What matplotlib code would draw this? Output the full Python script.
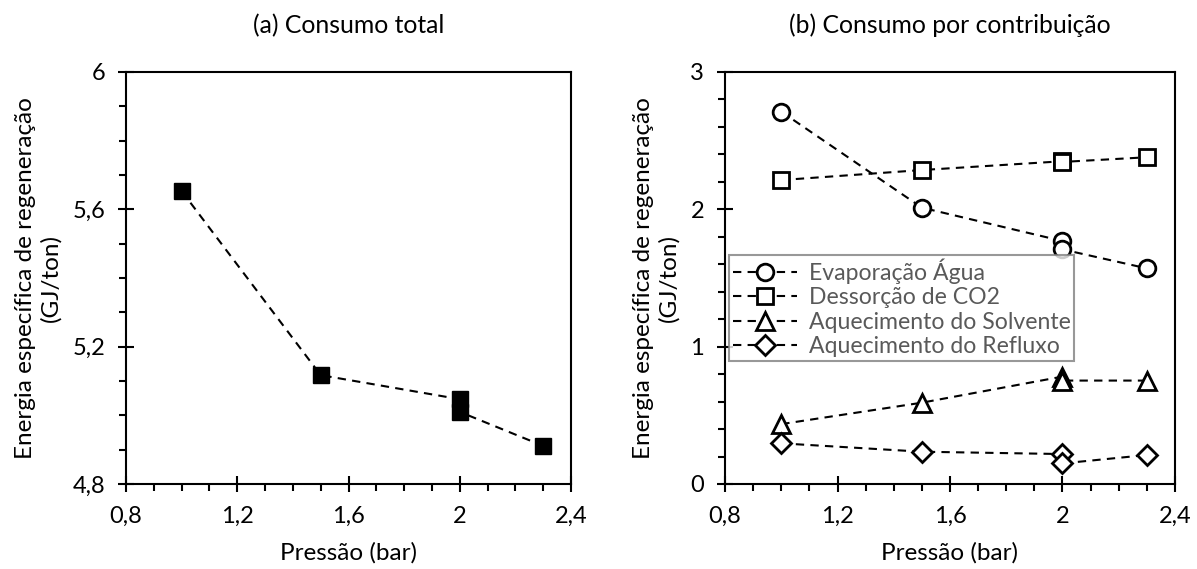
import matplotlib
matplotlib.use("Agg")
import matplotlib.pyplot as plt
from matplotlib.ticker import MultipleLocator, FuncFormatter

plt.rcParams['font.family'] = ['Lato', 'DejaVu Sans']

# (a) total consumption
pressao_total = [1.0, 1.5, 2.0, 2.0, 2.3]
consumo_total = [5.653, 5.117, 5.047, 5.010, 4.911]

# (b) consumption per contribution
pressao = [1.0, 1.5, 2.0, 2.0, 2.3]
evaporacao = [2.711, 2.012, 1.769, 1.708, 1.570]
dessorcao = [2.213, 2.286, 2.350, 2.345, 2.379]
aquec_solvente = [0.436, 0.592, 0.782, 0.753, 0.753]
aquec_refluxo = [0.296, 0.235, 0.218, 0.150, 0.211]

series = [
    ("Evaporação Água", evaporacao, "o", 12),
    ("Dessorção de CO2", dessorcao, "s", 12),
    ("Aquecimento do Solvente", aquec_solvente, "^", 13.5),
    ("Aquecimento do Refluxo", aquec_refluxo, "D", 10.5),
]

fs_tick = 17
fs_label = 17.5
fs_title = 17.8
fs_leg = 16.6
ylabel = "Energia específica de regeneração\n(GJ/ton)"
comma = FuncFormatter(lambda v, pos: f"{v:g}".replace(".", ","))

fig = plt.figure(figsize=(11.97, 5.69), dpi=100)
ax1 = fig.add_axes([0.1053, 0.1494, 0.3717, 0.7241])
ax2 = fig.add_axes([0.6057, 0.1494, 0.3759, 0.7241])

ax1.plot(pressao_total, consumo_total, ls=(0, (4, 3)), color="black", lw=1.5,
         marker="s", ms=12, mfc="black", mec="black")
ax1.set_ylim(4.8, 6.0)
ax1.yaxis.set_major_locator(MultipleLocator(0.4))
ax1.yaxis.set_minor_locator(MultipleLocator(0.1))

for label, vals, mk, ms in series:
    ax2.plot(pressao, vals, ls=(0, (4, 3)), color="black", lw=1.5,
             marker=mk, ms=ms, mfc="white", mec="black", mew=2, label=label)
ax2.set_ylim(0, 3)
ax2.yaxis.set_major_locator(MultipleLocator(1))
ax2.yaxis.set_minor_locator(MultipleLocator(0.2))

leg = ax2.legend(loc="upper left", bbox_to_anchor=(0.009, 0.556), fontsize=fs_leg,
                 frameon=True, fancybox=False, borderaxespad=0, handlelength=2.8,
                 borderpad=0.15, labelspacing=0.15, handletextpad=0.5,
                 labelcolor="#595959")
leg.get_frame().set_edgecolor("#7f7f7f")
leg.get_frame().set_linewidth(1.5)

titles = ["(a) Consumo total", "(b) Consumo por contribuição"]
for ax, title in zip((ax1, ax2), titles):
    ax.set_xlim(0.8, 2.4)
    ax.xaxis.set_major_locator(MultipleLocator(0.4))
    ax.xaxis.set_minor_locator(MultipleLocator(0.1))
    ax.xaxis.set_major_formatter(comma)
    ax.yaxis.set_major_formatter(comma)
    ax.tick_params(which="major", direction="inout", length=12, width=1.5,
                   labelsize=fs_tick)
    ax.tick_params(axis="x", which="major", pad=10)
    ax.tick_params(axis="y", which="major", pad=9)
    ax.tick_params(which="minor", direction="out", length=5, width=1.5)
    for sp in ax.spines.values():
        sp.set_linewidth(1.5)
    ax.set_xlabel("Pressão (bar)", fontsize=fs_label, labelpad=11)
    ax.set_ylabel(ylabel, fontsize=fs_label, labelpad=8)
    ax.set_title(title, fontsize=fs_title, pad=28)

fig.savefig("out.png", dpi=100)
